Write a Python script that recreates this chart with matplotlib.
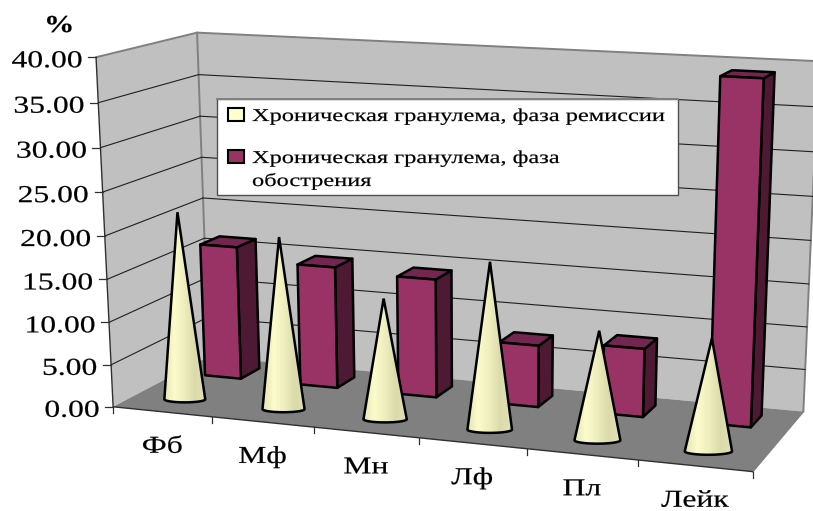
#!/usr/bin/env python3
"""3D-style chart: cones in the front row, columns behind, drawn on a plain 2D axes."""
import numpy as np
import matplotlib
matplotlib.use("Agg")
import matplotlib.pyplot as plt
from matplotlib.patches import Polygon, Rectangle
from matplotlib.colors import LinearSegmentedColormap
from matplotlib.patheffects import AbstractPathEffect
from matplotlib.transforms import Affine2D

# ---------- data ----------
categories = ["Фб", "Мф", "Мн", "Лф", "Пл", "Лейк"]
remission = [22.1, 20.1, 14.0, 19.1, 12.4, 12.6]
exacerbation = [16.1, 14.6, 14.1, 7.3, 8.0, 39.0]
y_ticks = [0, 5, 10, 15, 20, 25, 30, 35, 40]
series_names = ["Хроническая гранулема, фаза ремиссии",
                "Хроническая гранулема, фаза\nобострения"]

# ---------- colours ----------
WALL = "#c0c0c0"
FLOOR = "#808080"
BAR_FRONT = "#993366"
BAR_SIDE = "#4d1933"
BAR_TOP = "#732650"
CONE_KEY = "#ffffcc"
cone_cmap = LinearSegmentedColormap.from_list(
    "cone", ["#e4e4b6", "#fbfbcb", "#eeeebe", "#dadaaa", "#e2e2b4"])

FONT = "Liberation Serif"
N = len(categories)

# ---------- camera: (category, depth, value) -> canvas pixels ----------
anchors = [
    # front-left wall edge, one entry per gridline
    (0, 0, 0, 113, 405), (0, 0, 5, 111, 364), (0, 0, 10, 109, 322), (0, 0, 15, 107, 279),
    (0, 0, 20, 105, 236), (0, 0, 25, 103, 192), (0, 0, 30, 100, 148), (0, 0, 35, 98, 103),
    (0, 0, 40, 96, 58),
    # back-left corner
    (0, 1, 0, 209, 360), (0, 1, 20, 203, 197), (0, 1, 40, 197, 32),
    # back-right corner
    (N, 1, 0, 803, 410), (N, 1, 5, 805, 369), (N, 1, 10, 807, 327), (N, 1, 15, 809, 283),
    (N, 1, 40, 819, 62),
    # floor front-right
    (N, 0, 0, 753, 474),
]


def fit_camera(points):
    """Least-squares 3x4 projection matrix (DLT with the last entry fixed to 1)."""
    a, b = [], []
    for u, v, z, px, py in points:
        a.append([u, v, z, 1, 0, 0, 0, 0, -px*u, -px*v, -px*z])
        a.append([0, 0, 0, 0, u, v, z, 1, -py*u, -py*v, -py*z])
        b += [px, py]
    m = np.linalg.lstsq(np.array(a, float), np.array(b, float), rcond=None)[0]
    return np.append(m, 1.0).reshape(3, 4)


CAM = fit_camera(anchors)


def proj(u, v, z):
    x, y, w = CAM @ np.array([u, v, z, 1.0])
    return x / w, y / w


# ---------- text ----------
class Stretch(AbstractPathEffect):
    """Widen glyphs horizontally from the text origin, with a hairline stroke for weight."""
    def __init__(self, sx, stroke=0.15):
        super().__init__()
        self.sx = sx
        self.stroke = stroke

    def draw_path(self, renderer, gc, tpath, affine, rgbFace=None):
        gc0 = renderer.new_gc()
        gc0.copy_properties(gc)
        gc0.set_linewidth(self.stroke)
        gc0.set_foreground("black")
        renderer.draw_path(gc0, tpath, Affine2D().scale(self.sx, 1) + affine, rgbFace)
        gc0.restore()


fig = plt.figure(figsize=(8.13, 5.11), dpi=100, facecolor="white")
ax = fig.add_axes([0, 0, 1, 1])
ax.set_xlim(0, 813)
ax.set_ylim(511, 0)
ax.axis("off")
rend = fig.canvas.get_renderer()


def label(x, y, s, size, sx=1.3, ha="left", weight="normal", zorder=20):
    t = ax.text(x, y, s, fontsize=size, family=FONT, weight=weight, color="black",
                ha="left", va="baseline", zorder=zorder)
    t.set_path_effects([Stretch(sx)])
    w = t.get_window_extent(rend).width * sx
    if ha == "right":
        t.set_x(x - w)
    elif ha == "center":
        t.set_x(x - w / 2)
    return t


def face(corners, color, zorder, lw=1.8, edge="black"):
    ax.add_patch(Polygon([proj(*c) for c in corners], closed=True, facecolor=color,
                         edgecolor=edge, linewidth=lw, joinstyle="round", zorder=zorder))


# ---------- walls and floor ----------
ztop = y_ticks[-1]
face([(0, 0, 0), (0, 1, 0), (0, 1, ztop), (0, 0, ztop)], WALL, 1, lw=0, edge="none")
face([(0, 1, 0), (N, 1, 0), (N, 1, ztop), (0, 1, ztop)], WALL, 1, lw=0, edge="none")
face([(0, 0, 0), (N, 0, 0), (N, 1, 0), (0, 1, 0)], FLOOR, 2, lw=0, edge="none")


def edge_line(p, q, color, lw, zorder=3):
    (x0, y0), (x1, y1) = proj(*p), proj(*q)
    ax.plot([x0, x1], [y0, y1], color=color, lw=lw, zorder=zorder, solid_capstyle="round")


edge_line((0, 0, ztop), (0, 1, ztop), "#808080", 1.4)
edge_line((0, 1, ztop), (N, 1, ztop), "#808080", 1.4)
edge_line((0, 1, 0), (0, 1, ztop), "#808080", 1.4)
edge_line((N, 1, 0), (N, 1, ztop), "#808080", 1.4)
edge_line((N, 0, 0), (N, 1, 0), "#808080", 1.2)
edge_line((0, 0, 0), (0, 0, ztop), "#303030", 1.0)
edge_line((0, 0, 0), (N, 0, 0), "#303030", 1.0)

for z in y_ticks[1:-1]:
    edge_line((0, 0, z), (0, 1, z), "#202020", 0.8)
    edge_line((0, 1, z), (N, 1, z), "#202020", 0.8)

# axis ticks and their labels
for z in y_ticks:
    x, y = proj(0, 0, z)
    ax.plot([x - 8, x], [y, y], color="#303030", lw=0.9, zorder=3)
    label(x - 14, y + 10, f"{z:.2f}", 17.5, ha="right")

for i in range(N + 1):
    x, y = proj(i, 0, 0)
    ax.plot([x, x], [y, y + 6], color="#303030", lw=0.9, zorder=3)

for i, name in enumerate(categories):
    x, y = proj(i + 0.5, 0, 0)
    label(x, y + 41, name, 17.5, ha="center")

label(44, 32, "%", 17.5, sx=1.25, weight="bold")

# ---------- legend ----------
ax.add_patch(Rectangle((217, 99), 461, 96, facecolor="white", edgecolor="#505050",
                       linewidth=1.0, zorder=5))
ax.plot([217, 678], [99, 99], color="#808080", lw=1.4, zorder=6)
ax.add_patch(Rectangle((228, 108), 16, 13, facecolor=CONE_KEY, edgecolor="black", linewidth=1.5, zorder=6))
ax.add_patch(Rectangle((228, 150), 16, 13, facecolor=BAR_FRONT, edgecolor="black", linewidth=1.5, zorder=6))
first, second = series_names[0], series_names[1].split("\n")
label(252, 121, first, 13, sx=1.35, zorder=7)
label(252, 163, second[0], 13, sx=1.35, zorder=7)
label(252, 186, second[1], 13, sx=1.35, zorder=7)

# ---------- columns (back row) ----------
BAR_CENTER = 0.48
BAR_HALF_U = 0.19
BAR_V0, BAR_V1 = 0.66, 0.87
for i, val in enumerate(exacerbation):
    u0, u1 = i + BAR_CENTER - BAR_HALF_U, i + BAR_CENTER + BAR_HALF_U
    face([(u1, BAR_V0, 0), (u1, BAR_V1, 0), (u1, BAR_V1, val), (u1, BAR_V0, val)], BAR_SIDE, 10)
    face([(u0, BAR_V0, val), (u1, BAR_V0, val), (u1, BAR_V1, val), (u0, BAR_V1, val)], BAR_TOP, 10)
    face([(u0, BAR_V0, 0), (u1, BAR_V0, 0), (u1, BAR_V0, val), (u0, BAR_V0, val)], BAR_FRONT, 11)

# ---------- cones (front row) ----------
CONE_V = 0.23
CONE_R_U = 0.21
ELLIPSE_RATIO = 0.15
grad = np.linspace(0, 1, 128).reshape(1, -1)
for i, val in enumerate(remission):
    cx, cy = proj(i + 0.5, CONE_V, 0)
    ax_, ay_ = proj(i + 0.5, CONE_V, val)
    half = (proj(i + 0.5 + CONE_R_U, CONE_V, 0)[0] - proj(i + 0.5 - CONE_R_U, CONE_V, 0)[0]) / 2
    t = np.linspace(0, np.pi, 40)
    outline = np.column_stack([cx + half * np.cos(t), cy + half * ELLIPSE_RATIO * np.sin(t)])
    outline = np.vstack([[ax_, ay_], outline])
    zo = 13 + i * 0.1
    patch = Polygon(outline, closed=True, facecolor="none", edgecolor="black",
                    linewidth=1.8, joinstyle="miter", zorder=zo + 0.02)
    ax.add_patch(patch)
    img = ax.imshow(grad, cmap=cone_cmap, aspect="auto", zorder=zo,
                    extent=(cx - half, cx + half, cy + half, ay_))
    img.set_clip_path(Polygon(outline, closed=True, transform=ax.transData))

ax.set_xlim(0, 813)
ax.set_ylim(511, 0)
fig.savefig("out.png", dpi=100, facecolor="white")
